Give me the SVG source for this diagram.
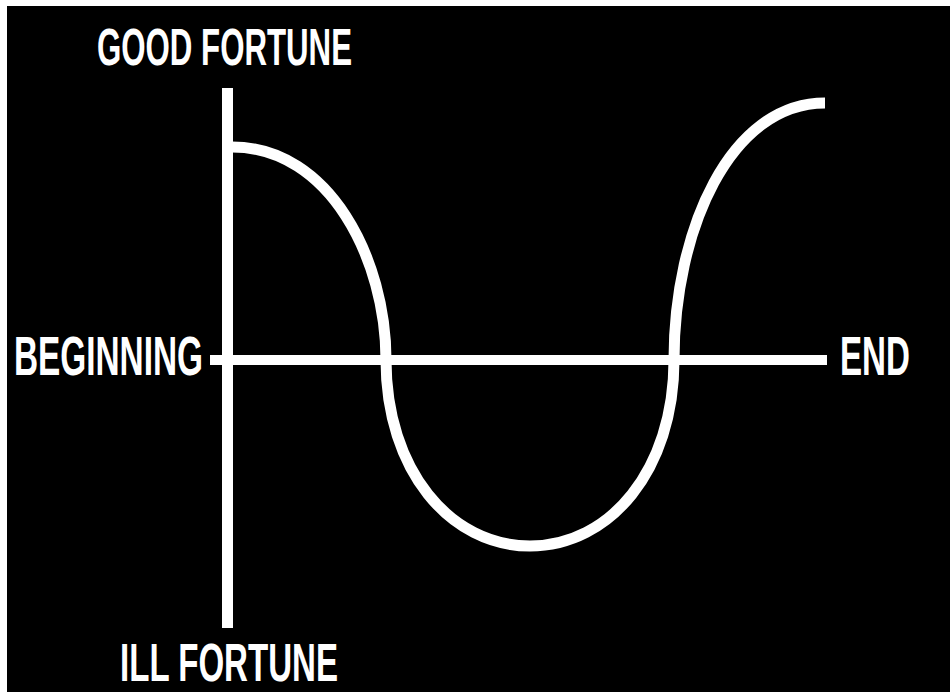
<svg xmlns="http://www.w3.org/2000/svg" width="950" height="692" viewBox="0 0 950 692">
  <style>
    .lbl { font-family: "Liberation Sans Narrow", "Liberation Sans", Arial, sans-serif; font-weight: bold; fill: #ffffff; }
    .ln { stroke: #ffffff; fill: none; }
  </style>
  <rect x="0" y="0" width="950" height="692" fill="#ffffff"/>
  <rect x="7" y="6" width="943" height="686" fill="#000000"/>
  <g id="axes">
    <line class="ln" x1="227.5" y1="88" x2="227.5" y2="628" stroke-width="11"/>
    <line class="ln" x1="210" y1="360" x2="827" y2="360" stroke-width="10"/>
  </g>
  <g id="curve">
    <path class="ln" stroke-width="11" d="M232,147 C330,147 386,260 386,360 C386,470 450,546 530,546 C610,546 674,470 674,360 C674,230 730,103 825,103"/>
  </g>
  <g id="labels">
    <text class="lbl" x="97" y="65" font-size="52" textLength="255" lengthAdjust="spacingAndGlyphs">GOOD FORTUNE</text>
    <text class="lbl" x="14" y="375" font-size="56" textLength="189" lengthAdjust="spacingAndGlyphs">BEGINNING</text>
    <text class="lbl" transform="translate(840,375) scale(1,1.1)" x="0" y="0" font-size="50" textLength="70" lengthAdjust="spacingAndGlyphs">END</text>
    <text class="lbl" x="120" y="681" font-size="54" textLength="218" lengthAdjust="spacingAndGlyphs">ILL FORTUNE</text>
  </g>
</svg>
